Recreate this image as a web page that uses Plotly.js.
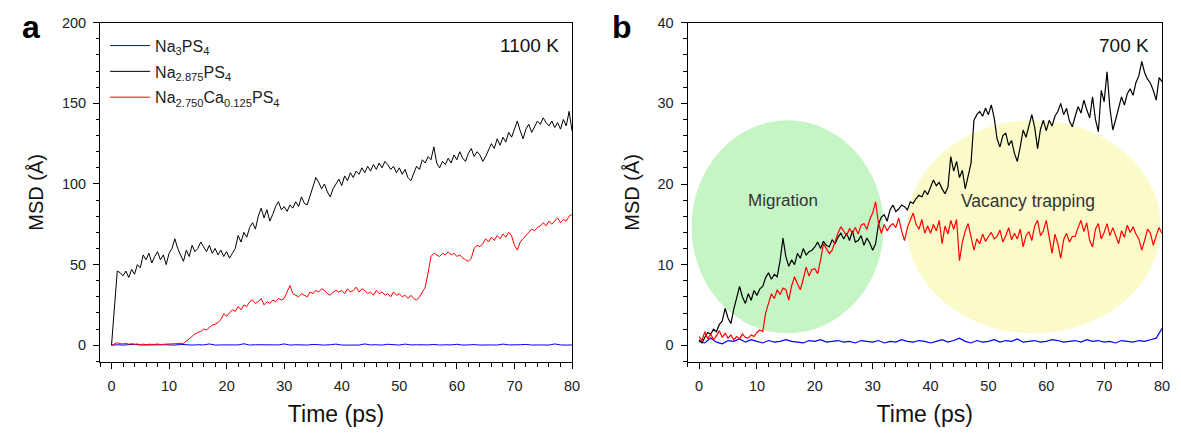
<!DOCTYPE html>
<html>
<head>
<meta charset="utf-8">
<script src="https://cdn.plot.ly/plotly-3.0.1.min.js"></script>
<style>html,body{margin:0;padding:0;background:#fff;}#chart{width:1181px;height:441px;}</style>
</head>
<body>
<div id="chart"></div>
<script>
// ---- time grids (ps) ----
const timeFine = [
  0,0.5,1,1.5,2,2.5,3,3.5,4,4.5, 5,5.5,6,6.5,7,7.5,8,8.5,9,9.5,
  10,10.5,11,11.5,12,12.5,13,13.5,14,14.5, 15,15.5,16,16.5,17,17.5,18,18.5,19,19.5,
  20,20.5,21,21.5,22,22.5,23,23.5,24,24.5, 25,25.5,26,26.5,27,27.5,28,28.5,29,29.5,
  30,30.5,31,31.5,32,32.5,33,33.5,34,34.5, 35,35.5,36,36.5,37,37.5,38,38.5,39,39.5,
  40,40.5,41,41.5,42,42.5,43,43.5,44,44.5, 45,45.5,46,46.5,47,47.5,48,48.5,49,49.5,
  50,50.5,51,51.5,52,52.5,53,53.5,54,54.5, 55,55.5,56,56.5,57,57.5,58,58.5,59,59.5,
  60,60.5,61,61.5,62,62.5,63,63.5,64,64.5, 65,65.5,66,66.5,67,67.5,68,68.5,69,69.5,
  70,70.5,71,71.5,72,72.5,73,73.5,74,74.5, 75,75.5,76,76.5,77,77.5,78,78.5,79,79.5,
  80];
const timeCoarse = [
  0,1,2,3,4,5,6,7,8,9, 10,11,12,13,14,15,16,17,18,19,
  20,21,22,23,24,25,26,27,28,29, 30,31,32,33,34,35,36,37,38,39,
  40,41,42,43,44,45,46,47,48,49, 50,51,52,53,54,55,56,57,58,59,
  60,61,62,63,64,65,66,67,68,69, 70,71,72,73,74,75,76,77,78,79,
  80];

// ---- panel a : 1100 K ----
const msdA_Na3PS4 = [
  0,0.3,0.1,0.2,0.6,0.1,0.2,0.4,0.1,0.3, 0.2,0.1,0.5,0.2,0.1,0.3,0.2,0.8,0.1,0.2,
  0.3,0.1,0.2,0.9,0.1,0.3,0.2,0.1,0.4,0.2, 0.8,0.1,0.3,0.2,0.1,0.5,0.2,0.1,0.3,0.7,
  0.1,0.2,0.4,0.1,0.8,0.2,0.3,0.1,0.6,0.2, 0.1,0.7,0.2,0.3,0.1,0.2,0.5,0.1,0.3,0.2,
  0.6,0.1,0.2,0.4,0.1,0.3,0.2,0.1,0.7,0.2, 0.1,0.3,0.5,0.1,0.2,0.3,0.1,0.8,0.2,0.1,
  0.2];
const msdA_Na2875 = [
  0,22,46,45,43,46,42,47,44,50,
  48,56,53,57,51,55,58,53,56,50,
  57,60,66,60,56,52,59,55,62,58,
  60,64,61,58,62,57,60,56,59,55,
  58,54,57,60,68,64,70,67,73,76,
  72,80,85,79,84,77,81,86,89,84,
  86,83,87,85,89,86,92,88,87,93,
  98,104,101,97,100,95,92,97,100,103,
  99,105,102,107,104,108,106,110,107,111,
  108,112,109,113,110,114,112,109,111,107,
  110,106,109,104,102,107,111,109,115,113,
  117,115,123,113,110,114,112,116,113,118,
  115,120,116,114,119,122,117,120,118,114,
  117,121,125,122,128,124,129,126,132,129,
  134,139,133,128,134,137,132,136,139,137,
  141,138,136,139,135,138,134,140,136,145,
  133];
const msdA_Ca = [
  0,1,1.5,1,0.8,1.2,0.6,1,0.5,0.8,
  0.4,0.7,0.3,0.6,0.4,0.5,0.8,0.4,0.6,0.7,
  0.5,0.8,0.6,1,0.9,1.2,2.5,4,6,7,
  8,8.5,10,9.5,11,12.5,13,14,16,19.5,
  18,20,22,21,24,22,25,24,27,28,
  26,27,29,25,27,26,28,27,29,28,
  29,33,37,32,31,30,32,31,30,33,
  32,34,33,35,34,32,31,33,34,33,
  34,32,35,33,34,36,33,35,34,32,
  33,31,34,32,33,31,32,30,33,31,
  32,30,31,29,31,29,28,30,33,36,
  45,55,57,56,55,57,56,58,56,57,
  55,56,54,53,52,54,60,62,61,63,
  66,64,67,65,68,66,69,67,70,68,
  62,59,64,66,68,70,72,71,73,74,
  76,74,77,75,77,79,76,78,77,80,
  81];

// ---- panel b : 700 K ----
const msdB_Na3PS4 = [
  0.5,0.3,0.9,0.4,0.2,0.6,0.5,0.8,0.4,0.7, 0.5,0.3,0.6,0.4,0.5,0.7,0.5,0.4,0.3,0.6,
  0.5,0.7,0.4,0.5,0.6,0.4,0.5,0.3,0.6,0.5, 0.4,0.6,0.3,0.5,0.4,0.7,0.5,0.4,0.6,0.5,
  0.3,0.5,0.7,0.4,0.6,0.9,0.5,0.3,0.6,0.4, 0.5,0.7,0.4,0.6,0.5,0.8,0.4,0.5,0.6,0.4,
  0.5,0.7,0.6,0.4,0.5,0.6,0.4,0.7,0.5,0.6, 0.4,0.5,0.3,0.6,0.5,0.4,0.6,0.5,0.7,0.9,
  2.1];
const msdB_Na2875 = [
  0.7,0.3,1.0,1.6,1.4,2.0,1.7,2.6,3.0,4.6,
  3.4,2.7,4.5,5.8,7.3,6.0,5.2,6.4,5.6,6.8,
  6.2,7.0,7.3,8.4,9.0,8.2,8.8,8.5,10.5,13.3,
  11.0,9.8,10.6,10.0,11.4,10.8,12.0,11.2,11.6,11.8,
  12.2,12.8,12.0,12.9,12.4,12.2,13.1,12.6,13.4,13.9,
  13.2,13.9,13.0,14.2,12.8,13.0,13.6,12.4,13.3,12.7,
  11.8,12.6,15.0,15.9,16.2,15.4,16.8,17.4,16.6,16.9,
  17.4,17.2,16.8,17.8,17.6,18.2,18.6,18.4,19.2,18.7,
  19.5,20.5,19.8,20.2,19.4,18.8,19.6,23.4,21.6,22.8,
  20.8,21.7,19.4,21.0,22.6,27.9,28.6,29.0,28.4,29.4,
  28.6,29.8,28.2,25.6,24.6,26.0,26.3,24.8,25.4,23.8,
  22.8,24.6,26.7,25.8,27.2,28.6,27.0,24.4,26.8,27.9,
  26.6,27.9,27.2,28.4,29.0,30.0,28.6,29.4,27.8,27.1,
  28.4,29.6,28.8,30.4,29.2,28.2,30.8,28.0,26.5,31.6,
  30.2,33.9,29.4,26.7,28.0,29.6,30.8,29.8,31.2,31.8,
  31.0,32.6,33.4,35.2,33.8,33.0,32.5,31.6,30.4,33.2,
  32.7];
const msdB_Ca = [
  1.1,0.6,1.7,0.8,1.4,0.7,1.2,1.8,1.0,1.5,
  0.9,1.3,0.7,1.1,0.8,1.4,1.0,0.9,1.3,1.1,
  1.6,1.9,1.7,4.0,5.2,6.4,5.8,6.9,6.3,7.1,
  6.9,5.6,7.4,8.5,7.6,6.9,8.2,9.7,8.6,9.4,
  9.5,8.9,10.6,12.6,12.0,11.4,11.8,13.0,13.9,14.7,
  14.2,13.6,14.5,13.9,14.6,13.8,14.9,15.1,14.4,15.6,
  16.4,17.8,15.2,13.9,15.0,14.2,14.8,15.1,14.6,15.8,
  14.2,13.0,14.6,15.4,16.4,15.0,14.4,15.6,13.9,14.8,
  13.9,15.0,14.2,15.5,12.6,14.8,13.8,15.5,14.4,15.6,
  10.5,12.8,14.2,15.1,13.6,11.8,13.2,12.6,13.8,12.9,
  13.5,14.0,13.2,13.5,14.3,12.8,13.6,14.6,13.1,13.9,
  13.2,14.4,12.2,13.6,14.1,13.0,14.8,15.5,13.6,14.2,
  15.5,13.2,11.4,13.8,12.6,10.8,13.1,13.9,12.8,13.5,
  13.5,14.6,15.5,14.1,15.2,13.0,12.2,14.4,15.1,13.2,
  14.0,15.1,13.6,14.6,13.5,12.6,14.2,13.4,14.9,14.0,
  14.7,13.8,13.2,11.8,13.0,14.4,13.9,12.4,13.6,14.6,
  13.9];

const seriesNames = [
  'Na<sub>3</sub>PS<sub>4</sub>',
  'Na<sub>2.875</sub>PS<sub>4</sub>',
  'Na<sub>2.750</sub>Ca<sub>0.125</sub>PS<sub>4</sub>'
];
const seriesColors = ['#0000ff', '#000000', '#ff0000'];
const xTicks = [0,10,20,30,40,50,60,70,80];
const yTicksA = [0,50,100,150,200];
const yTicksB = [0,10,20,30,40];

const FONT = 'Liberation Sans, Arial, sans-serif';

const traces = [
  {x: timeCoarse, y: msdA_Na3PS4, name: seriesNames[0], legendgroup:'g1', xaxis:'x', yaxis:'y', line:{color:seriesColors[0], width:1}},
  {x: timeFine, y: msdA_Na2875, name: seriesNames[1], legendgroup:'g2', xaxis:'x', yaxis:'y', line:{color:seriesColors[1], width:1}},
  {x: timeFine, y: msdA_Ca, name: seriesNames[2], legendgroup:'g3', xaxis:'x', yaxis:'y', line:{color:seriesColors[2], width:1}},
  {x: timeCoarse, y: msdB_Na3PS4, name: seriesNames[0], xaxis:'x2', yaxis:'y2', showlegend:false, line:{color:seriesColors[0], width:1.2}},
  {x: timeFine, y: msdB_Na2875, name: seriesNames[1], xaxis:'x2', yaxis:'y2', showlegend:false, line:{color:seriesColors[1], width:1.2}},
  {x: timeFine, y: msdB_Ca, name: seriesNames[2], xaxis:'x2', yaxis:'y2', showlegend:false, line:{color:seriesColors[2], width:1.2}}
].map(t => Object.assign({type:'scatter', mode:'lines', hoverinfo:'skip'}, t));

function xAxis(domain, anchor) {
  return {
    domain: domain, anchor: anchor, range: [-2, 80],
    tickvals: xTicks, ticks: 'outside', ticklen: 6, tickwidth: 1, tickcolor: '#000',
    minor: {dtick: 2, ticks: 'outside', ticklen: 3.5, tickcolor: '#000', showgrid:false},
    showline: true, linecolor: '#000', linewidth: 1, mirror: true,
    showgrid: false, zeroline: false,
    tickfont: {family: FONT, size: 14.5, color: '#222'},
    ticklabelstandoff: 5,
    title: {text: 'Time (ps)', font: {family: FONT, size: 23, color: '#111'}, standoff: 12}
  };
}
function yAxis(domain, anchor, range, tickvals, minorDtick) {
  return {
    domain: domain, anchor: anchor, range: range,
    tickvals: tickvals, ticks: 'outside', ticklen: 6, tickwidth: 1, tickcolor: '#000',
    minor: {dtick: minorDtick, ticks: 'outside', ticklen: 3.5, tickcolor: '#000', showgrid:false},
    showline: true, linecolor: '#000', linewidth: 1, mirror: true,
    showgrid: false, zeroline: false,
    tickfont: {family: FONT, size: 14.5, color: '#222'},
    ticklabelstandoff: 4,
    title: {text: 'MSD (Å)', font: {family: FONT, size: 20, color: '#111'}, standoff: 12}
  };
}

const yDom = [1 - 362/441, 1 - 22.7/441];
const layout = {
  width: 1181, height: 441,
  margin: {l: 0, r: 0, t: 0, b: 0},
  paper_bgcolor: '#fff', plot_bgcolor: '#fff',
  showlegend: true,
  legend: {
    x: 0.089, y: 0.935, xanchor: 'left', yanchor: 'top',
    bgcolor: 'rgba(0,0,0,0)', borderwidth: 0,
    font: {family: FONT, size: 16, color: '#222'},
    itemwidth: 40, tracegroupgap: 2
  },
  xaxis: xAxis([100/1181, 572/1181], 'y'),
  yaxis: yAxis(yDom, 'x', [-10.4, 200], yTicksA, 10),
  xaxis2: xAxis([687.5/1181, 1162/1181], 'y2'),
  yaxis2: yAxis(yDom, 'x2', [-2.06, 40], yTicksB, 2),
  shapes: [
    {type:'circle', xref:'x2', yref:'y2', x0:-1.3, x1:31.9, y0:1.5, y1:27.9, fillcolor:'#c5f5c5', line:{width:0}, layer:'below'},
    {type:'circle', xref:'x2', yref:'y2', x0:35.9, x1:79.8, y0:1.5, y1:27.9, fillcolor:'#fbfbc9', line:{width:0}, layer:'below'}
  ],
  annotations: [
    {text:'<b>a</b>', xref:'paper', yref:'paper', x: 31/1181, y: 1 - 27/441, xanchor:'center', yanchor:'middle', showarrow:false, font:{family:FONT, size:32, color:'#000'}},
    {text:'<b>b</b>', xref:'paper', yref:'paper', x: 622/1181, y: 1 - 27/441, xanchor:'center', yanchor:'middle', showarrow:false, font:{family:FONT, size:32, color:'#000'}},
    {text:'1100 K', xref:'paper', yref:'paper', x: 561/1181, y: 1 - 45/441, xanchor:'right', yanchor:'middle', showarrow:false, font:{family:FONT, size:19, color:'#111'}},
    {text:'700 K', xref:'paper', yref:'paper', x: 1151/1181, y: 1 - 45/441, xanchor:'right', yanchor:'middle', showarrow:false, font:{family:FONT, size:19, color:'#111'}},
    {text:'Migration', xref:'x2', yref:'y2', x: 14.5, y: 17.9, showarrow:false, font:{family:FONT, size:17, color:'#333'}},
    {text:'Vacancy trapping', xref:'x2', yref:'y2', x: 56.8, y: 17.9, showarrow:false, font:{family:FONT, size:17.5, color:'#333'}}
  ]
};

Plotly.newPlot('chart', traces, layout, {staticPlot: true, displayModeBar: false});
</script>
</body>
</html>
